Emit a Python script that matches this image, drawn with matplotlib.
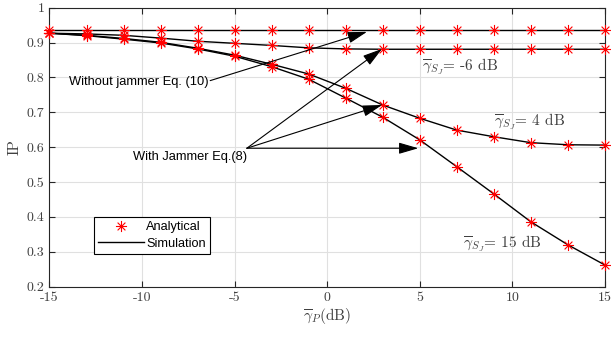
import numpy as np
import matplotlib.pyplot as plt
from matplotlib.path import Path

plt.rcParams['mathtext.fontset'] = 'cm'
plt.rcParams['axes.unicode_minus'] = False

# SNR of the primary link (dB)
snr_p = [-15, -13, -11, -9, -7, -5, -3, -1, 1, 3, 5, 7, 9, 11, 13, 15]

# intercept probability
ip_no_jam = [0.936] * 16
ip_sj_m6 = [0.927, 0.925, 0.921, 0.913, 0.904, 0.898, 0.892, 0.885,
            0.882, 0.881, 0.881, 0.881, 0.881, 0.881, 0.881, 0.881]
ip_sj_4 = [0.927, 0.921, 0.912, 0.901, 0.884, 0.864, 0.838, 0.810,
           0.769, 0.721, 0.683, 0.649, 0.630, 0.613, 0.607, 0.606]
ip_sj_15 = [0.927, 0.920, 0.910, 0.899, 0.882, 0.861, 0.831, 0.795,
            0.741, 0.686, 0.621, 0.544, 0.466, 0.386, 0.320, 0.262]

xticks = [-15, -10, -5, 0, 5, 10, 15]
yticks = [0.2, 0.3, 0.4, 0.5, 0.6, 0.7, 0.8, 0.9, 1.0]
ytick_labels = ['0.2', '0.3', '0.4', '0.5', '0.6', '0.7', '0.8', '0.9', '1']

# asterisk marker (plus + cross)
star = Path([(0, -1), (0, 1), (-1, 0), (1, 0),
             (-0.7, -0.7), (0.7, 0.7), (-0.7, 0.7), (0.7, -0.7)],
            [Path.MOVETO, Path.LINETO] * 4)

fig = plt.figure(figsize=(6.11, 3.38), dpi=100)
ax = fig.add_axes([0.081, 0.152, 0.909, 0.825])

for ip in [ip_no_jam, ip_sj_m6, ip_sj_4, ip_sj_15]:
    ax.plot(snr_p, ip, color='black', lw=1.0, zorder=2)
    ax.plot(snr_p, ip, ls='none', marker=star, ms=8, mew=0.8,
            mec='red', mfc='none', zorder=3, clip_on=False)

ax.set_xlim(-15, 15)
ax.set_ylim(0.2, 1)
ax.set_xticks(xticks)
ax.set_xticklabels([str(t) for t in xticks], family='cmr10', fontsize=10, color='#404040')
ax.set_yticks(yticks)
ax.set_yticklabels(ytick_labels, family='cmr10', fontsize=10, color='#404040')
ax.tick_params(direction='in', top=True, right=True, length=4, width=0.8, color='#262626')
ax.grid(True, color='#e0e0e0', lw=0.8)
ax.set_axisbelow(True)
for s in ax.spines.values():
    s.set_color('#262626')
    s.set_linewidth(0.8)

ax.set_xlabel(r'$\overline{\gamma}_P$(dB)', family='cmr10', fontsize=11, color='#404040', labelpad=2)
ax.set_ylabel('IP', family='cmr10', fontsize=11, color='#404040', labelpad=4)

# curve labels
lbl = dict(family='cmr10', fontsize=11, color='#404040', va='center')
ax.text(5.1, 0.832, r'$\overline{\gamma}_{S_J}$= -6 dB', **lbl)
ax.text(9.0, 0.673, r'$\overline{\gamma}_{S_J}$= 4 dB', **lbl)
ax.text(7.35, 0.324, r'$\overline{\gamma}_{S_J}$= 15 dB', **lbl)

# annotations with arrows
arr = dict(arrowstyle='-|>,head_length=1.2,head_width=0.35', color='black',
           lw=0.8, shrinkA=0, shrinkB=0)
ax.text(-6.4, 0.786, 'Without jammer Eq. (10)', family='Liberation Sans',
        fontsize=9.3, ha='right', va='center')
ax.annotate('', xy=(2.15, 0.931), xytext=(-6.32, 0.791), arrowprops=arr)

ax.text(-4.3, 0.571, 'With Jammer Eq.(8)', family='Liberation Sans',
        fontsize=9.3, ha='right', va='center')
for tip in [(2.96, 0.882), (2.96, 0.721), (4.92, 0.597)]:
    ax.annotate('', xy=tip, xytext=(-4.34, 0.597), arrowprops=arr)

h1, = ax.plot([], [], ls='none', marker=star, ms=8, mew=0.8, mec='red', mfc='none')
h2, = ax.plot([], [], color='black', lw=1.0)
leg = ax.legend([h1, h2], ['Analytical', 'Simulation'], loc='lower left',
                bbox_to_anchor=(0.080, 0.116), prop={'family': 'Liberation Sans', 'size': 9.2},
                fancybox=False, edgecolor='black', framealpha=1, handlelength=3.6,
                borderpad=0.35, labelspacing=0.35, handletextpad=0.15, borderaxespad=0)
leg.get_frame().set_linewidth(0.8)

fig.savefig('out.png', dpi=100)
